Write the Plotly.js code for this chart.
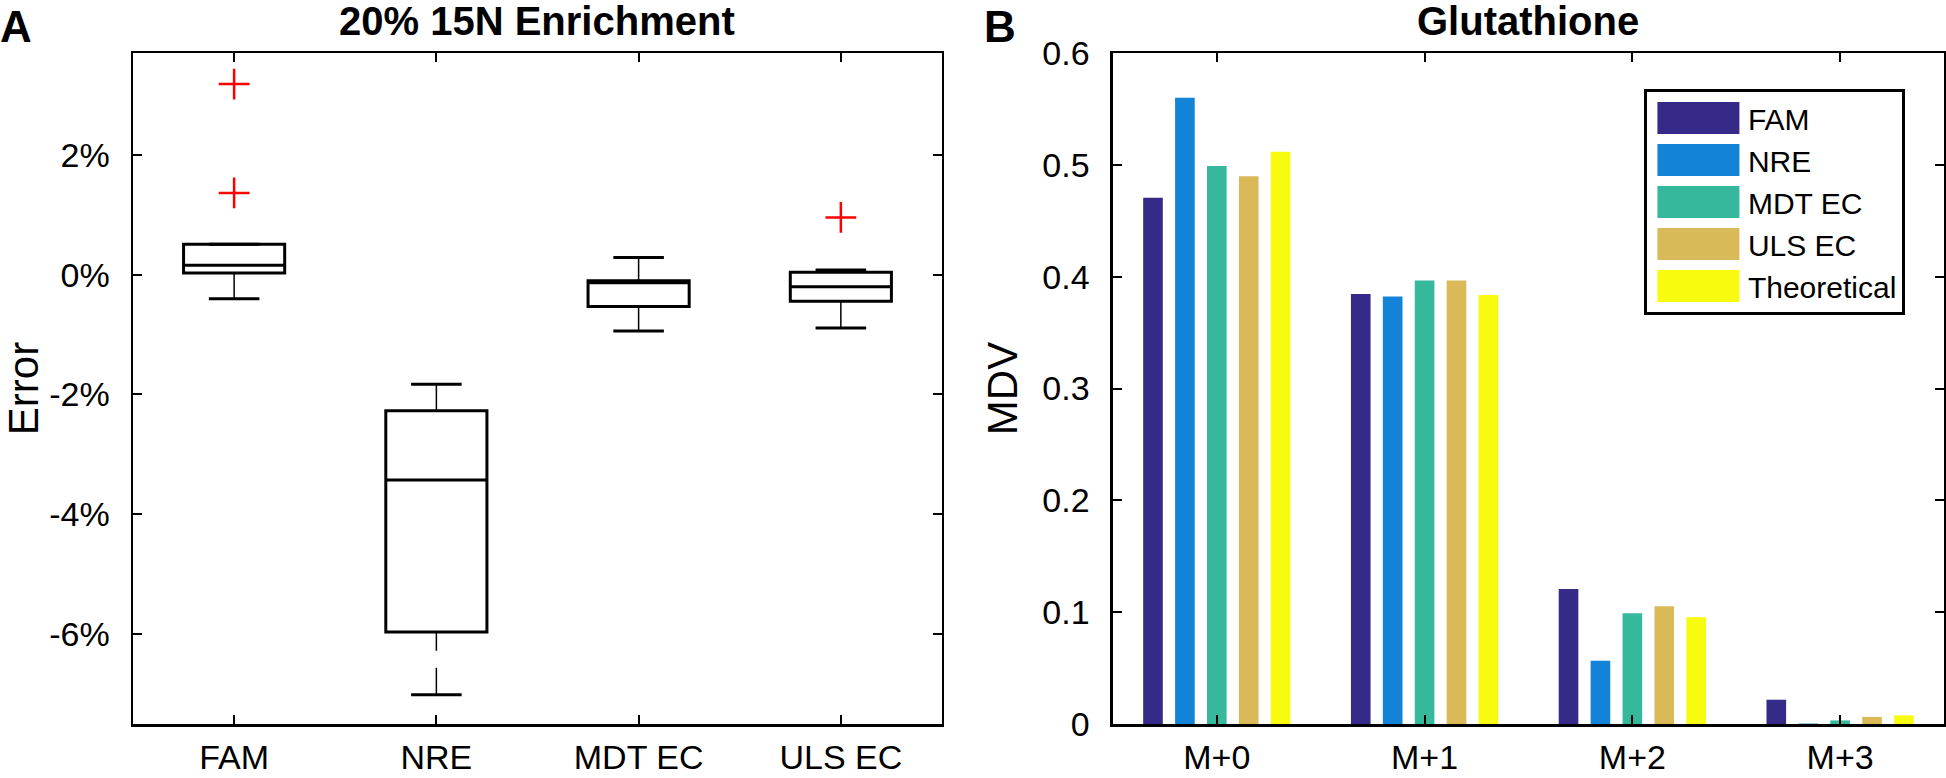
<!DOCTYPE html>
<html>
<head>
<meta charset="utf-8">
<script src="https://cdn.plot.ly/plotly-3.0.1.min.js"></script>
<style>
  html, body { margin: 0; padding: 0; background: #fff; }
  #chart { width: 1946px; height: 778px; }
</style>
</head>
<body>
<div id="chart"></div>
<script>
// Panel A — error per method (percent), box summary
const methods = ['FAM', 'NRE', 'MDT EC', 'ULS EC'];
const whiskerLow = [-0.40, -7.02, -0.94, -0.89];
const boxQ1 = [0.03, -5.97, -0.53, -0.44];
const boxMedian = [0.16, -3.43, -0.13, -0.20];
const boxQ3 = [0.51, -2.27, -0.10, 0.045];
const whiskerHigh = [0.51, -1.83, 0.29, 0.08];
const outlierMethod = [1, 1, 4];
const outlierError = [3.19, 1.37, 0.96];
const errorTickVals = [-6, -4, -2, 0, 2];
const errorTickText = ['-6%', '-4%', '-2%', '0%', '2%'];

// Panel B — glutathione MDV
const isotopologues = ['M+0', 'M+1', 'M+2', 'M+3'];
const seriesNames = ['FAM', 'NRE', 'MDT EC', 'ULS EC', 'Theoretical'];
const famMDV = [0.4705, 0.3846, 0.1207, 0.0217];
const nreMDV = [0.5600, 0.3822, 0.0565, 0.0004];
const mdtMDV = [0.4990, 0.3965, 0.0990, 0.0032];
const ulsMDV = [0.4898, 0.3965, 0.1052, 0.0063];
const theoMDV = [0.5116, 0.3837, 0.0954, 0.0077];

const FONT = 'Arial, "Liberation Sans", Helvetica, sans-serif';
const PARULA = ['#352A87', '#1283D6', '#36B89D', '#D9B958', '#F9FB0E'];

const positions = methods.map((_, i) => i + 1);
const capHalf = 0.125;

// whiskers (dashed, drawn from the cap toward the box)
const whiskX = [], whiskY = [], capX = [], capY = [];
positions.forEach((p, i) => {
    whiskX.push(p, p, null, p, p, null);
    whiskY.push(whiskerHigh[i], boxQ3[i], null, whiskerLow[i], boxQ1[i], null);
    capX.push(p - capHalf, p + capHalf, null, p - capHalf, p + capHalf, null);
    capY.push(whiskerHigh[i], whiskerHigh[i], null, whiskerLow[i], whiskerLow[i], null);
});

const traces = [
    {
        type: 'scatter', mode: 'lines', x: whiskX, y: whiskY,
        line: { color: '#000', width: 1.5, dash: '27px,17px' },
        hoverinfo: 'skip', showlegend: false, xaxis: 'x', yaxis: 'y'
    },
    {
        type: 'scatter', mode: 'lines', x: capX, y: capY,
        line: { color: '#000', width: 3 },
        hoverinfo: 'skip', showlegend: false, xaxis: 'x', yaxis: 'y'
    },
    {
        type: 'box', x: positions,
        q1: boxQ1, median: boxMedian, q3: boxQ3,
        lowerfence: boxQ1, upperfence: boxQ3,
        width: 0.5, whiskerwidth: 0,
        fillcolor: '#fff', line: { color: '#000', width: 3 },
        boxpoints: false, showlegend: false, xaxis: 'x', yaxis: 'y'
    },
    {
        type: 'scatter', mode: 'markers', x: outlierMethod, y: outlierError,
        marker: { symbol: 'cross-thin', size: 22, line: { color: '#ff0000', width: 2.5 } },
        showlegend: false, xaxis: 'x', yaxis: 'y'
    }
];

const mdvSeries = [famMDV, nreMDV, mdtMDV, ulsMDV, theoMDV];
mdvSeries.forEach((vals, k) => {
    traces.push({
        type: 'bar', name: seriesNames[k],
        x: isotopologues, y: vals,
        marker: { color: PARULA[k], line: { width: 0 } },
        xaxis: 'x2', yaxis: 'y2'
    });
});

const axisCommon = {
    showline: true, linecolor: '#000', linewidth: 2.5, mirror: 'ticks',
    ticks: 'inside', ticklen: 9, tickwidth: 2, tickcolor: '#000',
    showgrid: false, zeroline: false, fixedrange: true,
    tickfont: { family: FONT, size: 34, color: '#000' }
};

const layout = {
    width: 1946, height: 778,
    margin: { l: 133, r: 2, t: 53, b: 54 },
    font: { family: FONT, color: '#000' },
    paper_bgcolor: '#fff', plot_bgcolor: '#fff',
    barmode: 'group', bargap: 0.232, bargroupgap: 0.385,
    showlegend: true,
    xaxis: Object.assign({}, axisCommon, {
        domain: [0, 0.4467], anchor: 'y',
        range: [0.5, 4.5], tickvals: positions, ticktext: methods,
        ticklabelstandoff: 2
    }),
    yaxis: Object.assign({}, axisCommon, {
        domain: [0, 1], anchor: 'x',
        range: [-7.51, 3.71], tickvals: errorTickVals, ticktext: errorTickText,
        ticklabelstandoff: 14,
        title: { text: 'Error', font: { family: FONT, size: 42 }, standoff: 10 }
    }),
    xaxis2: Object.assign({}, axisCommon, {
        domain: [0.5411, 1], anchor: 'y2', type: 'category',
        ticklabelstandoff: 2
    }),
    yaxis2: Object.assign({}, axisCommon, {
        domain: [0, 1], anchor: 'x2',
        range: [0, 0.6], tick0: 0, dtick: 0.1,
        ticklabelstandoff: 14,
        title: { text: 'MDV', font: { family: FONT, size: 42 }, standoff: 12 }
    }),
    legend: {
        x: 0.8343, xanchor: 'left', y: 0.9463, yanchor: 'top',
        bgcolor: '#fff', bordercolor: '#000', borderwidth: 3,
        font: { family: FONT, size: 30, color: '#000' },
        itemwidth: 91, tracegroupgap: 0
    },
    annotations: [
        { text: '20% 15N Enrichment', xref: 'x domain', yref: 'paper', x: 0.5, y: 1.0477,
          xanchor: 'center', yanchor: 'middle', showarrow: false,
          font: { family: FONT, size: 40, weight: 'bold' } },
        { text: 'Glutathione', xref: 'x2 domain', yref: 'paper', x: 0.5, y: 1.0477,
          xanchor: 'center', yanchor: 'middle', showarrow: false,
          font: { family: FONT, size: 40, weight: 'bold' } },
        { text: 'A', xref: 'paper', yref: 'paper', x: -0.0745, y: 1.0395,
          xanchor: 'left', yanchor: 'middle', showarrow: false,
          font: { family: FONT, size: 44, weight: 'bold' } },
        { text: 'B', xref: 'paper', yref: 'paper', x: 0.4690, y: 1.0395,
          xanchor: 'left', yanchor: 'middle', showarrow: false,
          font: { family: FONT, size: 44, weight: 'bold' } }
    ]
};

Plotly.newPlot('chart', traces, layout, { displayModeBar: false, staticPlot: true }).then(gd => {
    // MATLAB-style wide legend swatches inside the item slot
    gd.querySelectorAll('g.legendpoints path').forEach(p => p.setAttribute('d', 'M42,16H-40V-16H42Z'));
});
</script>
</body>
</html>
